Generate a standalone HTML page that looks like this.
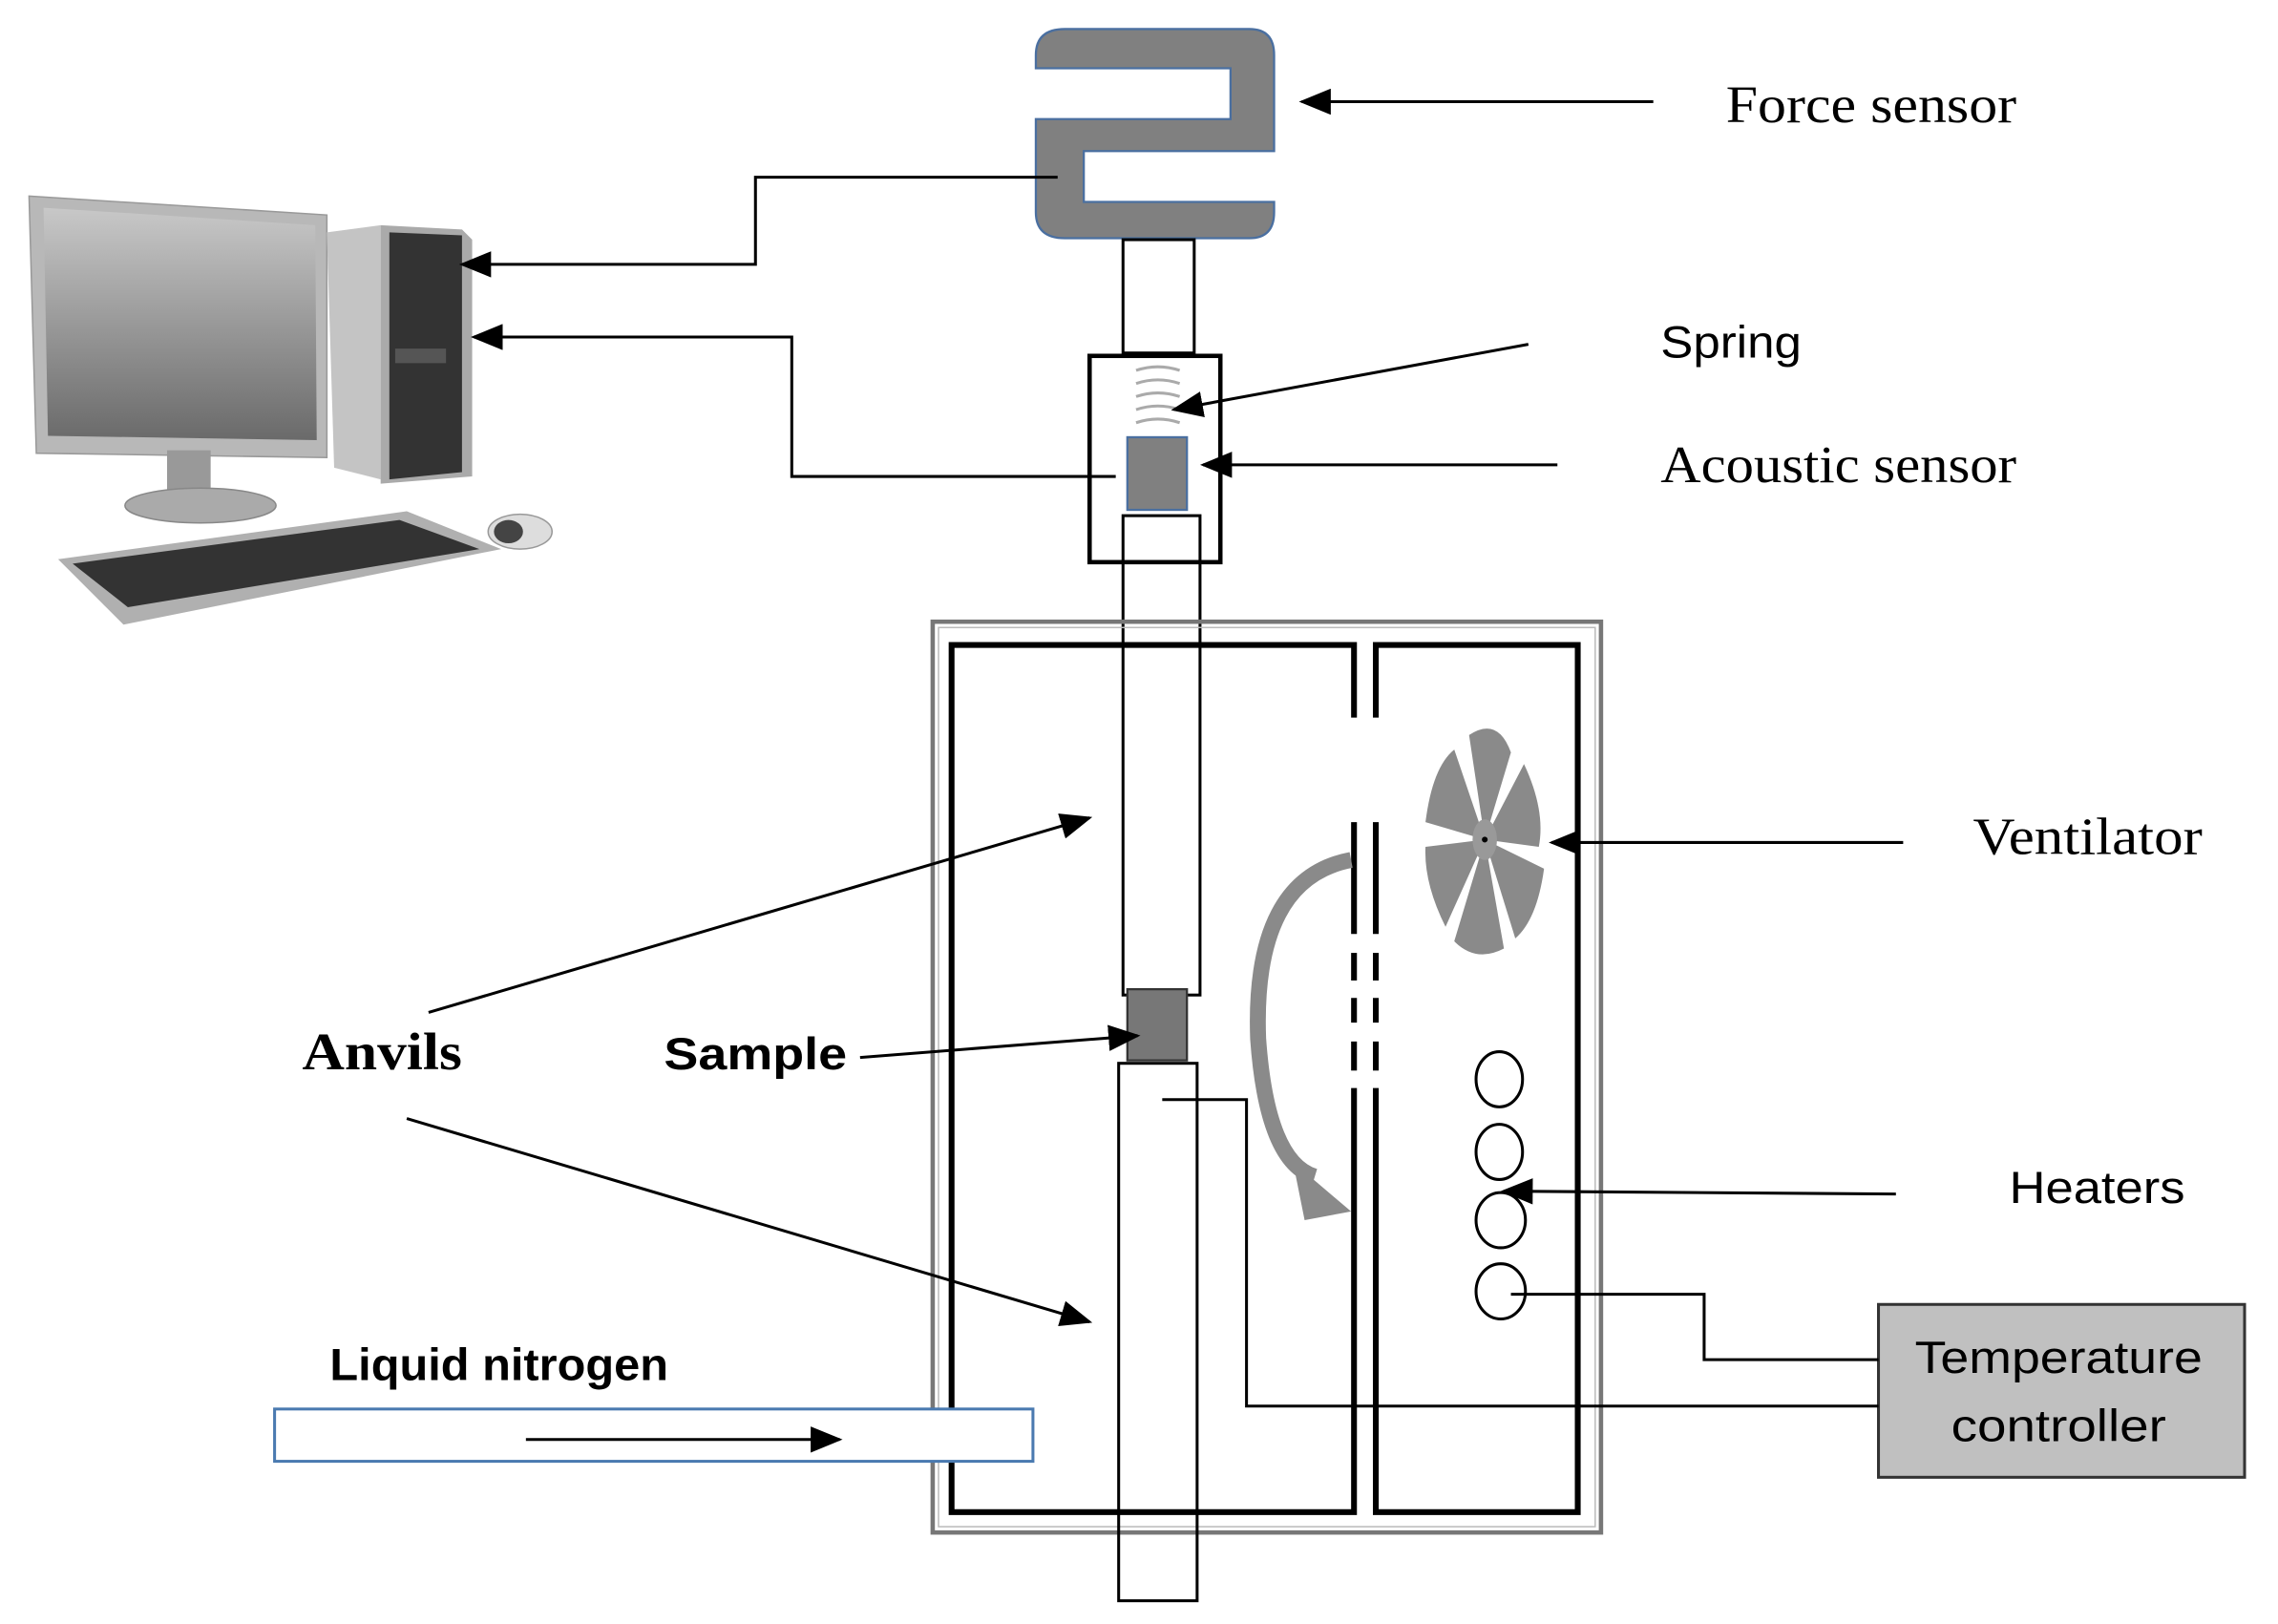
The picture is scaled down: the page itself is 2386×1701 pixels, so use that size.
<!DOCTYPE html>
<html><head><meta charset="utf-8"><style>
html,body{margin:0;padding:0;background:#fff;}
svg{display:block;}
.serif{font-family:"Liberation Serif",serif;font-size:36px;}
.sans{font-family:"Liberation Sans",sans-serif;font-size:31px;}
</style></head><body>
<svg width="2386" height="1701" viewBox="0 0 1568 1118" preserveAspectRatio="none" xmlns="http://www.w3.org/2000/svg">
<defs>
<marker id="ah2" markerWidth="22" markerHeight="18" refX="20" refY="9" orient="auto" markerUnits="userSpaceOnUse" viewBox="0 0 22 18">
<path d="M0,0 L22,9 L0,18 z" fill="#000"/></marker>
<linearGradient id="scr" x1="0" y1="0" x2="0" y2="1"><stop offset="0" stop-color="#c8c8c8"/><stop offset="1" stop-color="#6a6a6a"/></linearGradient>
</defs>

<!-- computer -->
<polygon points="20,135 225,148 225,315 25,312" fill="#b8b8b8" stroke="#999"/>
<polygon points="30,143 217,155 218,303 33,300" fill="url(#scr)"/>
<polygon points="225,160 262,155 262,330 230,322" fill="#c4c4c4"/>
<polygon points="262,155 318,158 325,165 325,328 262,333" fill="#aaa"/>
<polygon points="268,160 318,162 318,325 268,330" fill="#333"/>
<rect x="272" y="240" width="35" height="10" fill="#555"/>
<rect x="115" y="310" width="30" height="35" fill="#999"/>
<ellipse cx="138" cy="348" rx="52" ry="12" fill="#aaa" stroke="#888"/>
<polygon points="40,385 280,352 345,378 85,430" fill="#b0b0b0"/>
<polygon points="50,388 275,358 330,378 88,418" fill="#333"/>
<ellipse cx="358" cy="366" rx="22" ry="12" fill="#ddd" stroke="#999"/>
<ellipse cx="350" cy="366" rx="10" ry="8" fill="#444"/>

<!-- force sensor -->
<path d="M713,38 Q713,20 733,20 L860,20 Q877,20 877,38 L877,104 L746,104 L746,139 L877,139 L877,146 Q877,164 860,164 L733,164 Q713,164 713,146 L713,82 L847,82 L847,47 L713,47 Z" fill="#808080" stroke="#4a6fa0" stroke-width="1.5"/>

<!-- rods and housing -->
<rect x="773" y="165" width="49" height="78" fill="#fff" stroke="#000" stroke-width="2"/>
<rect x="750" y="245" width="90" height="142" fill="none" stroke="#000" stroke-width="3"/>
<g stroke="#aaa" stroke-width="2" fill="none">
<path d="M782,255 q15,-5 30,0 M782,264 q15,-5 30,0 M782,273 q15,-5 30,0 M782,282 q15,-5 30,0 M782,291 q15,-5 30,0"/></g>
<rect x="776" y="301" width="41" height="50" fill="#808080" stroke="#4a6fa0" stroke-width="1.5"/>
<rect x="773" y="355" width="53" height="330" fill="none" stroke="#000" stroke-width="2"/>

<!-- chamber -->
<rect x="642" y="428" width="460" height="627" fill="none" stroke="#777" stroke-width="3"/>
<rect x="646" y="432" width="452" height="619" fill="none" stroke="#bbb" stroke-width="1"/>
<path d="M932,494 L932,444 L655,444 L655,1041 L932,1041 L932,749" fill="none" stroke="#000" stroke-width="4"/>
<path d="M947,494 L947,444 L1086,444 L1086,1041 L947,1041 L947,749" fill="none" stroke="#000" stroke-width="4"/>
<g stroke="#000" stroke-width="4">
<line x1="932" y1="566" x2="932" y2="643"/><line x1="947" y1="566" x2="947" y2="643"/>
<line x1="932" y1="656" x2="932" y2="675"/><line x1="947" y1="656" x2="947" y2="675"/>
<line x1="932" y1="687" x2="932" y2="704"/><line x1="947" y1="687" x2="947" y2="704"/>
<line x1="932" y1="717" x2="932" y2="737"/><line x1="947" y1="717" x2="947" y2="737"/>
</g>

<rect x="776" y="681" width="41" height="49" fill="#777" stroke="#333" stroke-width="1.5"/>
<rect x="770" y="732" width="54" height="370" fill="none" stroke="#000" stroke-width="2"/>

<!-- curved arrow -->
<path d="M930,592 Q862,605 866,715 Q872,800 905,810" fill="none" stroke="#8a8a8a" stroke-width="11"/>
<polygon points="890,800 930,834 898,840" fill="#8a8a8a"/>

<!-- fan -->
<g transform="translate(1022,578)" fill="#8a8a8a">
<g transform="scale(0.6,1)">
<path d="M0,0 L-18,-72 Q15,-85 30,-60 Z"/>
<path d="M0,0 L45,-52 Q70,-20 62,5 Z" />
<path d="M0,0 L68,20 Q60,55 35,68 Z"/>
<path d="M0,0 L22,75 Q-10,85 -35,70 Z"/>
<path d="M0,0 L-45,60 Q-70,30 -68,5 Z"/>
<path d="M0,0 L-68,-12 Q-60,-50 -35,-62 Z"/>
<circle r="14" fill="#999"/></g>
<circle r="2" fill="#000"/></g>

<!-- heaters -->
<g fill="none" stroke="#000" stroke-width="2">
<ellipse cx="1032" cy="743" rx="16" ry="19"/>
<ellipse cx="1032" cy="793" rx="16" ry="19"/>
<ellipse cx="1033" cy="840" rx="17" ry="19"/>
<ellipse cx="1033" cy="889" rx="17" ry="19"/>
</g>

<!-- temperature controller -->
<rect x="1293" y="898" width="252" height="119" fill="#c0c0c0" stroke="#333" stroke-width="2"/>
<text x="1417" y="945" class="sans" text-anchor="middle" textLength="198" lengthAdjust="spacingAndGlyphs">Temperature</text>
<text x="1417" y="992" class="sans" text-anchor="middle" textLength="148" lengthAdjust="spacingAndGlyphs">controller</text>

<!-- liquid nitrogen -->
<rect x="189" y="970" width="522" height="36" fill="#fff" stroke="#4a7ab0" stroke-width="2"/>

<!-- connectors -->
<g fill="none" stroke="#000" stroke-width="2">
<polyline points="728,122 520,122 520,182 318,182" marker-end="url(#ah2)"/>
<polyline points="768,328 545,328 545,232 326,232" marker-end="url(#ah2)"/>
<line x1="1138" y1="70" x2="896" y2="70" marker-end="url(#ah2)"/>
<line x1="1052" y1="237" x2="808" y2="282" marker-end="url(#ah2)"/>
<line x1="1072" y1="320" x2="828" y2="320" marker-end="url(#ah2)"/>
<line x1="1310" y1="580" x2="1068" y2="580" marker-end="url(#ah2)"/>
<line x1="1305" y1="822" x2="1035" y2="820" marker-end="url(#ah2)"/>
<polyline points="1040,891 1173,891 1173,936 1293,936"/>
<polyline points="800,757 858,757 858,968 1293,968"/>
<line x1="295" y1="697" x2="750" y2="563" marker-end="url(#ah2)"/>
<line x1="280" y1="770" x2="750" y2="910" marker-end="url(#ah2)"/>
<line x1="592" y1="728" x2="783" y2="713" marker-end="url(#ah2)"/>
<line x1="362" y1="991" x2="578" y2="991" marker-end="url(#ah2)"/>
</g>

<!-- labels -->
<text x="1188" y="84" class="serif" textLength="200" lengthAdjust="spacingAndGlyphs">Force sensor</text>
<text x="1143" y="246" class="sans" textLength="97" lengthAdjust="spacingAndGlyphs">Spring</text>
<text x="1143" y="332" class="serif" textLength="245" lengthAdjust="spacingAndGlyphs">Acoustic sensor</text>
<text x="1358" y="588" class="serif" textLength="158" lengthAdjust="spacingAndGlyphs">Ventilator</text>
<text x="1383" y="828" class="sans" textLength="121" lengthAdjust="spacingAndGlyphs">Heaters</text>
<text x="208" y="736" class="serif" font-weight="bold" textLength="110" lengthAdjust="spacingAndGlyphs">Anvils</text>
<text x="457" y="736" class="sans" font-weight="bold" textLength="126" lengthAdjust="spacingAndGlyphs">Sample</text>
<text x="227" y="950" class="sans" font-weight="bold" font-size="29" textLength="233" lengthAdjust="spacingAndGlyphs">Liquid nitrogen</text>
</svg>
</body></html>
